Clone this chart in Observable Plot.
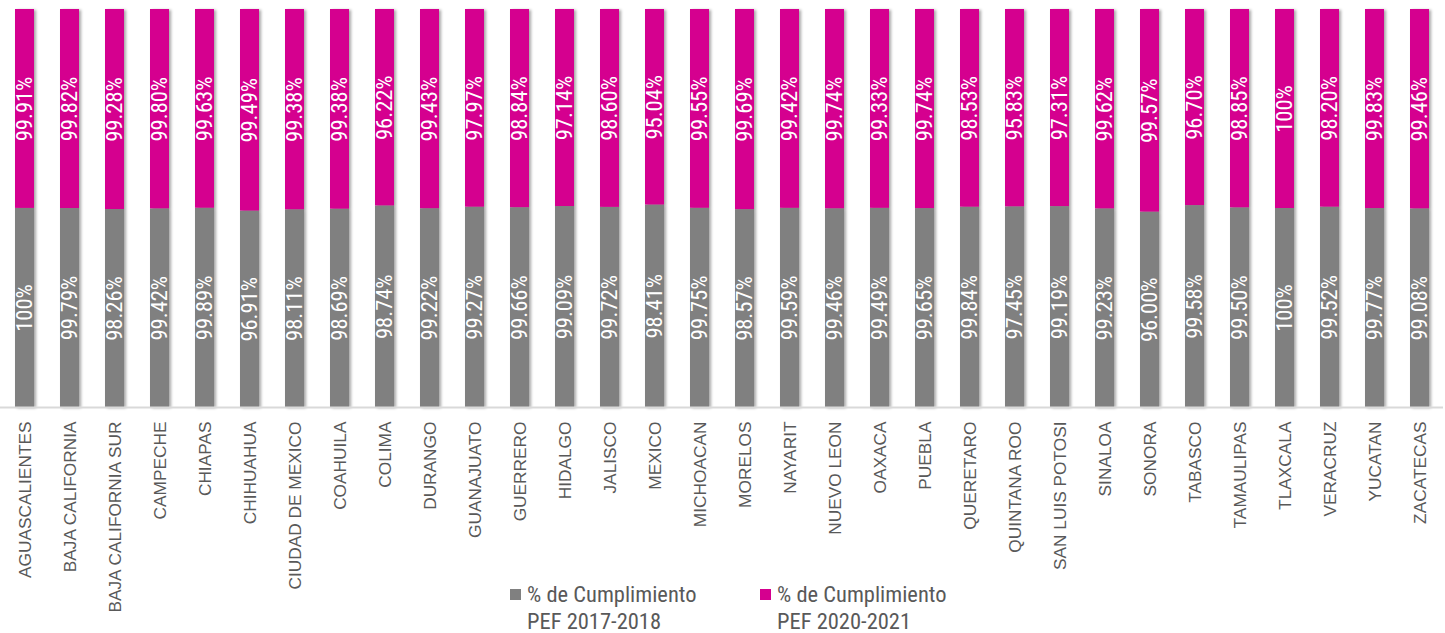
<!DOCTYPE html>
<html>
<head>
<meta charset="utf-8">
<script src="https://cdn.jsdelivr.net/npm/d3@7"></script>
<script src="https://cdn.jsdelivr.net/npm/@observablehq/plot@0.6"></script>
<style>
  body { margin: 0; background: #fff; }
  #wrap { position: relative; width: 1445px; height: 633px; }
  #wrap svg g[aria-label="bar"] { filter: drop-shadow(2px 1px 1.5px rgba(0,0,0,0.35)); }
  .legend { position: absolute; top: 581px; font-family: "Roboto Condensed", "Liberation Sans Narrow", "DejaVu Sans Condensed", sans-serif; font-size: 22.5px; color: #595959; line-height: 27px; }
  .legend .sw { position: absolute; left: 0; top: 8px; width: 11px; height: 11px; }
  .legend .tx { margin-left: 17px; white-space: nowrap; }
</style>
</head>
<body>
<div id="wrap"></div>
<script>
const states = ["AGUASCALIENTES","BAJA CALIFORNIA","BAJA CALIFORNIA SUR","CAMPECHE","CHIAPAS","CHIHUAHUA","CIUDAD DE MEXICO","COAHUILA","COLIMA","DURANGO","GUANAJUATO","GUERRERO","HIDALGO","JALISCO","MEXICO","MICHOACAN","MORELOS","NAYARIT","NUEVO LEON","OAXACA","PUEBLA","QUERETARO","QUINTANA ROO","SAN LUIS POTOSI","SINALOA","SONORA","TABASCO","TAMAULIPAS","TLAXCALA","VERACRUZ","YUCATAN","ZACATECAS"];
const series = ["% de Cumplimiento PEF 2017-2018", "% de Cumplimiento PEF 2020-2021"];
const pef2017_2018 = [100,99.79,98.26,99.42,99.89,96.91,98.11,98.69,98.74,99.22,99.27,99.66,99.09,99.72,98.41,99.75,98.57,99.59,99.46,99.49,99.65,99.84,97.45,99.19,99.23,96.00,99.58,99.50,100,99.52,99.77,99.08];
const pef2020_2021 = [99.91,99.82,99.28,99.80,99.63,99.49,99.38,99.38,96.22,99.43,97.97,98.84,97.14,98.60,95.04,99.55,99.69,99.42,99.74,99.33,99.74,98.53,95.83,97.31,99.62,99.57,96.70,98.85,100,98.20,99.83,99.46];
const colors = ["#808080", "#d5008f"];

const fmt = v => v === 100 ? "100%" : v.toFixed(2) + "%";
const rows = [];
[pef2017_2018, pef2020_2021].forEach((arr, si) => {
  arr.forEach((v, i) => rows.push({state: states[i], series: series[si], value: v, label: fmt(v)}));
});

const condensed = '"Roboto Condensed", "Liberation Sans Narrow", "DejaVu Sans Condensed", sans-serif';

const chart = Plot.plot({
  width: 1445,
  height: 633,
  marginTop: 9,
  marginBottom: 226,
  marginLeft: 0,
  marginRight: 2,
  style: {background: "#fff", overflow: "visible", fontFamily: '"Liberation Sans", Arial, sans-serif'},
  x: {domain: states, paddingInner: 0.58, paddingOuter: 0.2775, axis: null},
  y: {axis: null},
  color: {domain: series, range: colors},
  marks: [
    Plot.barY(rows, Plot.stackY({x: "state", y: "value", z: "series", fill: "series", offset: "normalize"})),
    Plot.ruleY([0], {stroke: "#d9d9d9", strokeWidth: 2}),
    Plot.text(rows, Plot.stackY({x: "state", y: "value", z: "series", offset: "normalize", text: "label", rotate: -90, fill: "white", fontSize: 22.5, fontFamily: condensed})),
    Plot.axisX({tickRotate: -90, tickSize: 0, tickPadding: 14, fontSize: 17.3, fill: "#595959", label: null})
  ]
});
const wrap = document.getElementById("wrap");
wrap.appendChild(chart);

const legendX = [510, 760];
series.forEach((s, i) => {
  const d = document.createElement("div");
  d.className = "legend";
  d.style.left = legendX[i] + "px";
  const parts = s.split(" PEF ");
  d.innerHTML = `<span class="sw" style="background:${colors[i]}"></span><div class="tx">${parts[0]}</div><div class="tx">PEF ${parts[1]}</div>`;
  wrap.appendChild(d);
});
</script>
</body>
</html>
